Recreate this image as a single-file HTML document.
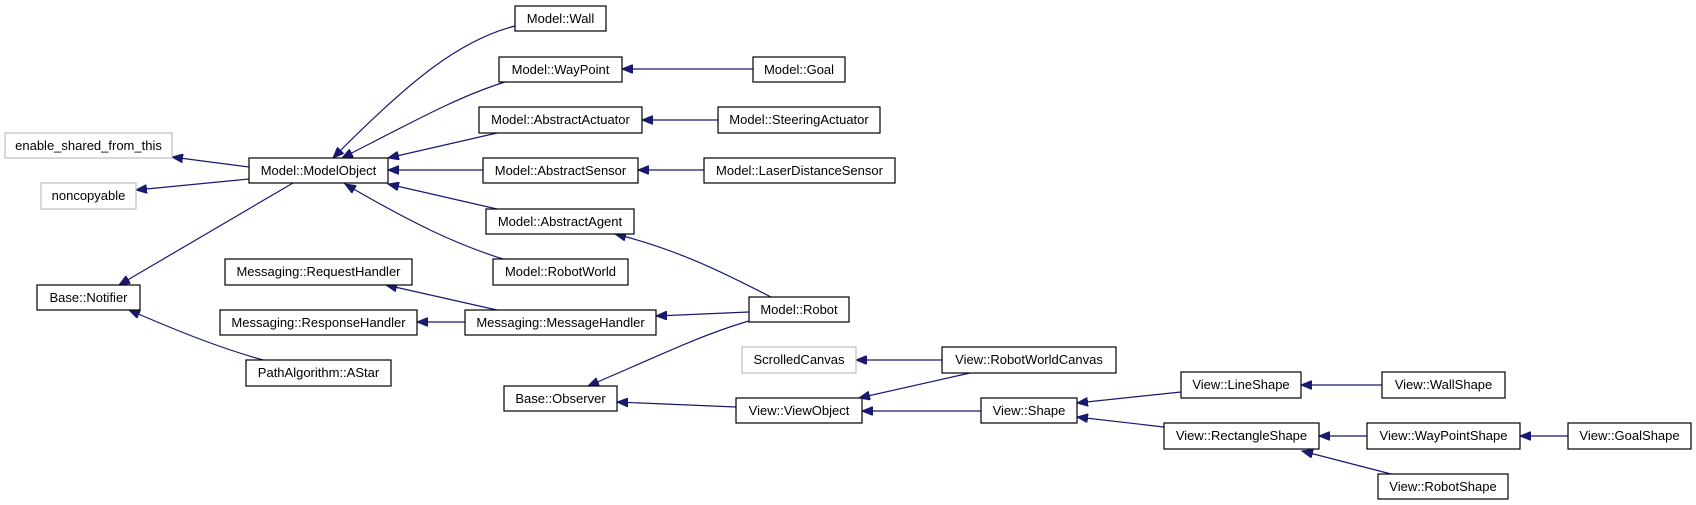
<!DOCTYPE html>
<html><head><meta charset="utf-8"><style>
html,body{margin:0;padding:0;background:#fff;width:1696px;height:505px;overflow:hidden}
svg{display:block}
text{font-family:"Liberation Sans",Arial,sans-serif;font-size:13px;fill:#000}
</style></head><body>
<svg width="1696" height="505" viewBox="0 0 1696 505" xmlns="http://www.w3.org/2000/svg">
<defs>
<marker id="a" markerUnits="userSpaceOnUse" markerWidth="12" markerHeight="9" refX="11" refY="4.5" orient="auto">
<path d="M0,0 L11,4.5 L0,9 z" fill="#191970" stroke="#191970"/>
</marker>
</defs>
<g fill="none" stroke="#191970" stroke-width="1.2" marker-end="url(#a)">
<line x1="249" y1="167" x2="172" y2="157"/>
<line x1="249" y1="179" x2="136" y2="190"/>
<line x1="293" y1="183" x2="119" y2="285"/>
<path d="M263,360 C220,348 180,332 129,310"/>
<path d="M515,26 C460,40 410,80 333,158"/>
<path d="M505,82 C460,96 420,118 342,158"/>
<line x1="497" y1="133" x2="388" y2="158"/>
<line x1="483" y1="170" x2="388" y2="170"/>
<line x1="497" y1="209" x2="388" y2="184"/>
<path d="M503,259 C455,244 410,222 345,184"/>
<line x1="753" y1="69" x2="622" y2="69"/>
<line x1="718" y1="120" x2="642" y2="120"/>
<line x1="704" y1="170" x2="638" y2="170"/>
<path d="M771,297 C730,276 680,250 615,234"/>
<line x1="497" y1="310" x2="386" y2="285"/>
<line x1="465" y1="322" x2="417" y2="322"/>
<line x1="749" y1="312" x2="656" y2="316"/>
<path d="M749,321 C700,335 650,360 588,386"/>
<line x1="736" y1="407" x2="617" y2="402"/>
<line x1="942" y1="360" x2="856" y2="360"/>
<line x1="970" y1="373" x2="859" y2="398"/>
<line x1="981" y1="411" x2="862" y2="411"/>
<line x1="1181" y1="392" x2="1077" y2="403"/>
<line x1="1164" y1="427" x2="1077" y2="417"/>
<line x1="1382" y1="385" x2="1301" y2="385"/>
<line x1="1367" y1="436" x2="1319" y2="436"/>
<line x1="1568" y1="436" x2="1520" y2="436"/>
<line x1="1391" y1="474" x2="1302" y2="451"/>
</g>
<g stroke-width="1.2" fill="#fff">
<rect x="5" y="133" width="167" height="25" stroke="#bfbfbf"/>
<rect x="41" y="183" width="95" height="26" stroke="#bfbfbf"/>
<rect x="742" y="347" width="114" height="26" stroke="#bfbfbf"/>
</g>
<g stroke="#000" stroke-width="1.2" fill="#fff">
<rect x="249" y="158" width="139" height="25"/>
<rect x="37" y="285" width="103" height="25"/>
<rect x="225" y="259" width="187" height="26"/>
<rect x="220" y="310" width="197" height="25"/>
<rect x="246" y="360" width="145" height="26"/>
<rect x="515" y="6" width="91" height="25"/>
<rect x="499" y="57" width="123" height="25"/>
<rect x="753" y="57" width="92" height="25"/>
<rect x="479" y="107" width="163" height="26"/>
<rect x="718" y="107" width="162" height="26"/>
<rect x="483" y="158" width="155" height="25"/>
<rect x="704" y="158" width="191" height="25"/>
<rect x="486" y="209" width="148" height="25"/>
<rect x="493" y="259" width="135" height="26"/>
<rect x="465" y="310" width="191" height="25"/>
<rect x="749" y="297" width="100" height="25"/>
<rect x="942" y="347" width="174" height="26"/>
<rect x="504" y="386" width="113" height="25"/>
<rect x="736" y="398" width="126" height="25"/>
<rect x="981" y="398" width="96" height="25"/>
<rect x="1181" y="372" width="120" height="26"/>
<rect x="1382" y="372" width="123" height="26"/>
<rect x="1164" y="423" width="155" height="26"/>
<rect x="1367" y="423" width="153" height="26"/>
<rect x="1568" y="423" width="123" height="26"/>
<rect x="1378" y="474" width="130" height="25"/>
</g>
<g text-anchor="middle">
<text x="88.5" y="150">enable_shared_from_this</text>
<text x="88.5" y="200">noncopyable</text>
<text x="799" y="364">ScrolledCanvas</text>
<text x="318.5" y="175">Model::ModelObject</text>
<text x="88.5" y="302">Base::Notifier</text>
<text x="318.5" y="276">Messaging::RequestHandler</text>
<text x="318.5" y="327">Messaging::ResponseHandler</text>
<text x="318.5" y="377">PathAlgorithm::AStar</text>
<text x="560.5" y="23">Model::Wall</text>
<text x="560.5" y="74">Model::WayPoint</text>
<text x="799" y="74">Model::Goal</text>
<text x="560.5" y="124">Model::AbstractActuator</text>
<text x="799" y="124">Model::SteeringActuator</text>
<text x="560.5" y="175">Model::AbstractSensor</text>
<text x="799.5" y="175">Model::LaserDistanceSensor</text>
<text x="560" y="226">Model::AbstractAgent</text>
<text x="560.5" y="276">Model::RobotWorld</text>
<text x="560.5" y="327">Messaging::MessageHandler</text>
<text x="799" y="314">Model::Robot</text>
<text x="1029" y="364">View::RobotWorldCanvas</text>
<text x="560.5" y="403">Base::Observer</text>
<text x="799" y="415">View::ViewObject</text>
<text x="1029" y="415">View::Shape</text>
<text x="1241" y="389">View::LineShape</text>
<text x="1443.5" y="389">View::WallShape</text>
<text x="1241.5" y="440">View::RectangleShape</text>
<text x="1443.5" y="440">View::WayPointShape</text>
<text x="1629.5" y="440">View::GoalShape</text>
<text x="1443" y="491">View::RobotShape</text>
</g>
</svg>
</body></html>
